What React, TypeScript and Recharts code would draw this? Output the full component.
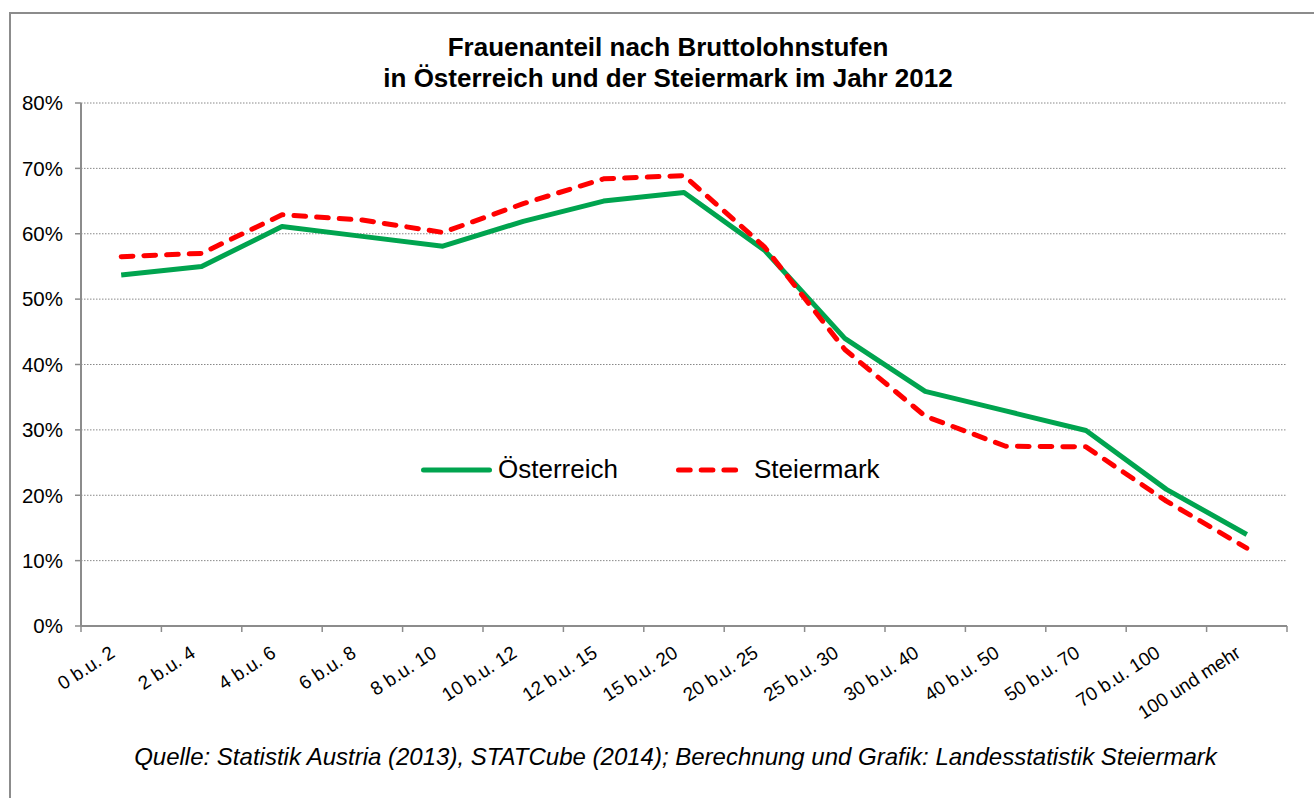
import React from 'react';
import { LineChart, Line, XAxis, YAxis, CartesianGrid, Legend } from 'recharts';

const categories = [
  '0 b.u. 2', '2 b.u. 4', '4 b.u. 6', '6 b.u. 8', '8 b.u. 10', '10 b.u. 12', '12 b.u. 15',
  '15 b.u. 20', '20 b.u. 25', '25 b.u. 30', '30 b.u. 40', '40 b.u. 50', '50 b.u. 70',
  '70 b.u. 100', '100 und mehr',
];
const oesterreich = [53.7, 55.0, 61.1, 59.6, 58.1, 61.9, 65.0, 66.3, 57.5, 44.0, 35.9, 32.9, 29.9, 20.9, 14.0];
const steiermark = [56.5, 57.0, 62.9, 62.1, 60.2, 64.6, 68.4, 68.9, 58.0, 42.3, 32.1, 27.5, 27.4, 19.1, 11.9];
const yTicks = [0, 10, 20, 30, 40, 50, 60, 70, 80];

const titleLines = ['Frauenanteil nach Bruttolohnstufen', 'in Österreich und der Steiermark im Jahr 2012'];
const sourceText = 'Quelle: Statistik Austria (2013), STATCube (2014); Berechnung und Grafik: Landesstatistik Steiermark';

const data = categories.map((c, i) => ({ idx: i, name: c, oe: oesterreich[i], st: steiermark[i] }));
const xTicks: number[] = [];
for (let i = 0; i <= categories.length * 2; i++) xTicks.push(i / 2 - 0.5);

const FONT = '"Liberation Sans", Arial, sans-serif';
const GREEN = '#00A44F';
const RED = '#FF0000';
const AXIS = '#8c8c8c';
const DASH = '11.7 11';

const XTick = (props: any) => {
  const { x, y, payload } = props;
  const v = payload.value as number;
  if (!Number.isInteger(v)) {
    return <line x1={x} x2={x} y1={y - 6} y2={y} stroke={AXIS} strokeWidth={1.5} />;
  }
  const ax = x - 5;
  const ay = y + 24;
  return (
    <text
      x={ax}
      y={ay}
      transform={`rotate(-33 ${ax} ${ay})`}
      textAnchor="end"
      fontFamily={FONT}
      fontSize={19}
      fill="#000"
    >
      {categories[v]}
    </text>
  );
};

const LegendContent = () => (
  <div style={{ display: 'flex', alignItems: 'center', fontFamily: FONT, fontSize: 26, color: '#000', whiteSpace: 'nowrap' }}>
    <svg width={76} height={10} style={{ marginRight: 4, display: 'block' }}>
      <line x1={5.5} x2={71.5} y1={5} y2={5} stroke={GREEN} strokeWidth={5} strokeLinecap="round" />
    </svg>
    <span>Österreich</span>
    <svg width={68} height={10} style={{ marginLeft: 55, marginRight: 13, display: 'block' }}>
      <line x1={5.5} x2={62.6} y1={5} y2={5} stroke={RED} strokeWidth={5} strokeLinecap="round" strokeDasharray={DASH} />
    </svg>
    <span>Steiermark</span>
  </div>
);

export default function App() {
  return (
    <div style={{ position: 'absolute', left: 0, top: 0, width: 1314, height: 798, overflow: 'hidden', background: '#fff' }}>
      <div style={{ position: 'absolute', left: 9, top: 12, width: 1330, height: 820, border: '2px solid #8c8c8c', boxSizing: 'border-box' }} />
      <div style={{ position: 'absolute', left: 0, top: 0 }}>
        <LineChart width={1314} height={798} data={data} margin={{ top: 103, right: 27, bottom: 72, left: 11 }}>
          <CartesianGrid horizontal vertical={false} stroke="#888" strokeDasharray="1.5 1.5" strokeWidth={1} />
          <XAxis
            dataKey="idx"
            type="number"
            domain={[-0.5, 14.5]}
            ticks={xTicks}
            interval={0}
            tick={<XTick />}
            tickLine={false}
            tickSize={6}
            tickMargin={0}
            height={100}
            axisLine={{ stroke: AXIS, strokeWidth: 2 }}
          />
          <YAxis
            domain={[0, 80]}
            ticks={yTicks}
            interval={0}
            width={70}
            tickFormatter={(v: number) => `${v}%`}
            tick={{ fontFamily: FONT, fontSize: 20.5, fill: '#000' }}
            tickSize={6}
            tickMargin={12}
            tickLine={{ stroke: AXIS, strokeWidth: 1.5 }}
            axisLine={{ stroke: AXIS, strokeWidth: 2 }}
          />
          <Legend
            content={<LegendContent />}
            layout="horizontal"
            verticalAlign="middle"
            align="center"
            wrapperStyle={{ position: 'absolute', top: 454, left: 418, width: 'auto' }}
          />
          <Line type="linear" dataKey="oe" name="Österreich" stroke={GREEN} strokeWidth={5} dot={false} isAnimationActive={false} strokeLinejoin="round" />
          <Line type="linear" dataKey="st" name="Steiermark" stroke={RED} strokeWidth={5} strokeDasharray={DASH} strokeLinecap="round" dot={false} isAnimationActive={false} strokeLinejoin="round" />
        </LineChart>
      </div>
      <div style={{ position: 'absolute', left: 0, width: 1336, top: 32, textAlign: 'center', fontFamily: FONT, fontWeight: 'bold', fontSize: 26, lineHeight: '31px', color: '#000' }}>
        {titleLines.map((t) => (<div key={t}>{t}</div>))}
      </div>
      <div style={{ position: 'absolute', left: 0, width: 1351, top: 745, textAlign: 'center', fontFamily: FONT, fontStyle: 'italic', fontSize: 24, lineHeight: '24px', color: '#000', whiteSpace: 'nowrap' }}>
        {sourceText}
      </div>
    </div>
  );
}
